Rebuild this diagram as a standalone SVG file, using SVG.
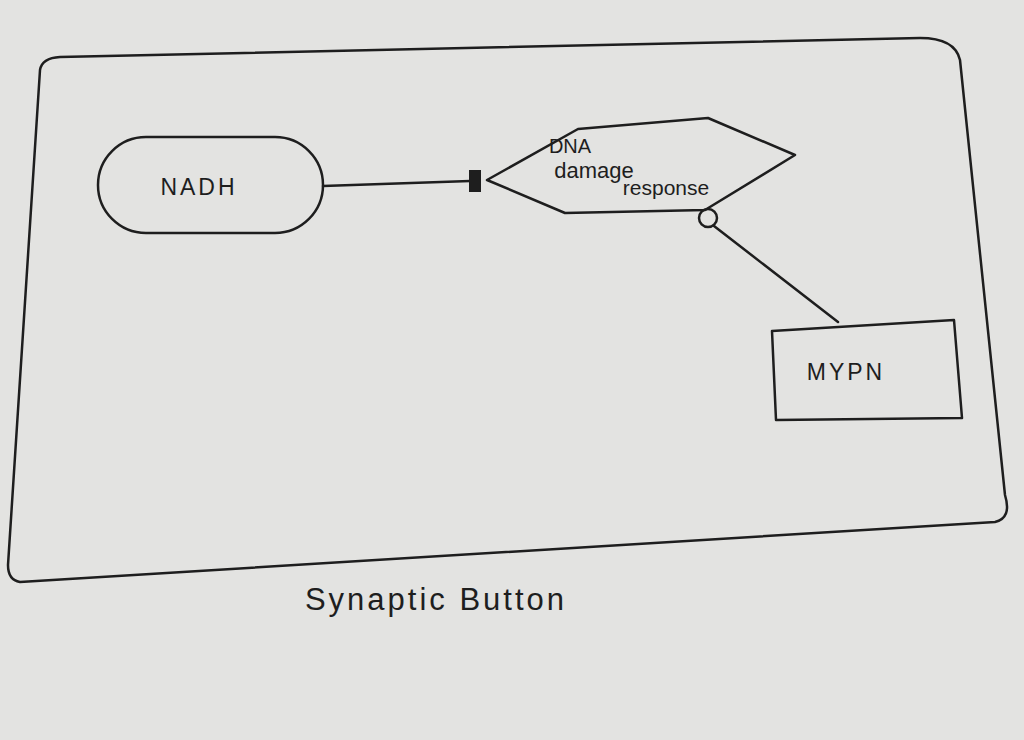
<svg xmlns="http://www.w3.org/2000/svg" width="1024" height="740" viewBox="0 0 1024 740">
  <style>
    .ink { fill: none; stroke: #1e1e1e; stroke-width: 2.5; stroke-linejoin: round; stroke-linecap: round; }
    .lbl { font-family: "Liberation Sans", Arial, sans-serif; fill: #1e1e1e; }
  </style>
  <rect x="0" y="0" width="1024" height="740" fill="#e3e3e1"/>
  <g id="container">
    <path class="ink" d="M40,70 Q42,58 60,57 L920,38 Q955,38 960,60 L1005,495 Q1012,518 995,522 L20,582 Q8,580 8,565 L40,70 Z"/>
    <text class="lbl" x="436" y="610" font-size="31" letter-spacing="3" text-anchor="middle">Synaptic Button</text>
  </g>
  <g id="connectors">
    <line class="ink" x1="323" y1="186" x2="470" y2="181"/>
    <rect x="469" y="170" width="12" height="22" fill="#1e1e1e"/>
    <circle class="ink" cx="708" cy="218" r="9"/>
    <line class="ink" x1="714" y1="226" x2="838" y2="322"/>
  </g>
  <g id="nadh">
    <rect class="ink" x="98" y="137" width="225" height="96" rx="48" ry="48"/>
    <text class="lbl" x="199" y="195" font-size="23" letter-spacing="3" text-anchor="middle">NADH</text>
  </g>
  <g id="dna">
    <polygon class="ink" points="487,180 578,129 708,118 795,155 705,210 565,213"/>
    <text class="lbl" x="570" y="153" font-size="20" text-anchor="middle">DNA</text>
    <text class="lbl" x="594" y="178" font-size="22" text-anchor="middle">damage</text>
    <text class="lbl" x="666" y="195" font-size="21" text-anchor="middle">response</text>
  </g>
  <g id="mypn">
    <polygon class="ink" points="772,331 954,320 962,418 776,420"/>
    <text class="lbl" x="846" y="380" font-size="23" letter-spacing="3" text-anchor="middle">MYPN</text>
  </g>
</svg>
